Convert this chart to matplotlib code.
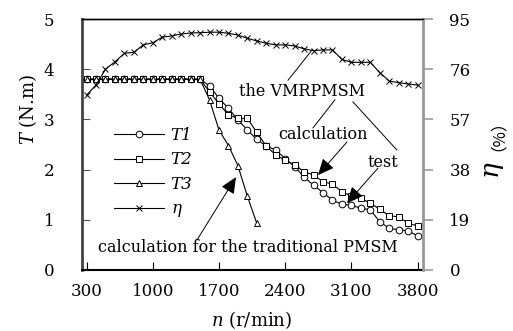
import numpy as np
import matplotlib
matplotlib.use('Agg')
import matplotlib.pyplot as plt

plt.rcParams['font.family'] = ['DejaVu Serif', 'Noto Sans CJK SC']
plt.rcParams['mathtext.fontset'] = 'dejavuserif'

# speed (r/min)
n = list(range(300, 3900, 100))
flat = [3.8] * 13  # 300..1500
T1 = flat + [3.67, 3.42, 3.22, 2.99, 2.79, 2.60, 2.47, 2.39, 2.22, 2.06, 1.85, 1.69,
             1.54, 1.39, 1.31, 1.29, 1.23, 1.20, 0.96, 0.83, 0.80, 0.78, 0.68]
T2 = flat + [3.55, 3.31, 3.09, 3.02, 3.02, 2.74, 2.47, 2.29, 2.19, 2.09, 1.96, 1.89,
             1.76, 1.71, 1.56, 1.47, 1.43, 1.33, 1.21, 1.08, 1.06, 0.93, 0.88]
n3 = list(range(300, 2200, 100))
T3 = flat + [3.39, 2.79, 2.48, 2.08, 1.47, 0.93]
eta = [66.2, 70.0, 76.0, 78.8, 82.0, 82.4, 85.2, 86.0, 88.1, 88.6, 89.3, 89.7,
       89.8, 90.0, 90.0, 89.6, 88.9, 87.7, 86.7, 85.8, 85.2, 85.2, 84.8, 83.7,
       83.0, 83.3, 83.3, 79.7, 78.6, 78.6, 78.6, 74.7, 71.5, 70.9, 70.4, 70.0]

xticks = [300, 1000, 1700, 2400, 3100, 3800]
eta_ticks = [0, 19, 38, 57, 76, 95]

fig = plt.figure(figsize=(5.13, 3.31), dpi=100)
ax = fig.add_axes([82/513, 1-270/331, 341/513, 251/331])
ax2 = ax.twinx()

lw = 0.8
ax.plot(n, T1, '-o', color='black', lw=lw, ms=4.8, mfc='white', mew=0.7, label='T1', zorder=3)
ax.plot(n, T2, '-s', color='black', lw=lw, ms=4.8, mfc='white', mew=0.7, label='T2', zorder=3)
ax.plot(n3, T3, '-^', color='black', lw=lw, ms=4.2, mfc='white', mew=0.7, label='T3', zorder=3)
l4, = ax2.plot(n, eta, '-x', color='black', lw=lw, ms=4.5, mew=0.7, label=r'$\eta$')

ax.set_xlim(252, 3857)
ax.set_ylim(0, 5)
ax2.set_ylim(0, 95)
ax.set_xticks(xticks)
ax.set_yticks([0, 1, 2, 3, 4, 5])
ax2.set_yticks(eta_ticks)

ax.tick_params(axis='x', direction='in', length=6, width=0.8, pad=9, labelsize=12)
ax.tick_params(axis='y', direction='in', length=6, width=0.8, pad=20, labelsize=12, color='#555555')
ax2.tick_params(axis='y', direction='out', length=7, width=1.2, pad=12, labelsize=12, color='#999999')
ax.spines['left'].set_linewidth(2)
ax.spines['left'].set_color('#444444')
ax2.spines['left'].set_visible(False)
ax2.spines['right'].set_color('#999999')
ax2.spines['right'].set_linewidth(2)
ax.spines['bottom'].set_linewidth(1.5)
ax.spines['top'].set_linewidth(1)
ax2.spines['top'].set_linewidth(1)
ax2.spines['bottom'].set_visible(False)

h, lab = ax.get_legend_handles_labels()
leg = ax.legend(h + [l4], lab + [r'$\eta$'], loc='upper left', bbox_to_anchor=(0.05, 0.63),
                frameon=False, handlelength=3.0, labelspacing=0.45, handletextpad=0.4,
                prop={'style': 'italic', 'size': 12})

fig.text(28/513, 1-110/331, r'$T$ (N.m)', rotation=90, ha='center', va='center', fontsize=13)
fig.text(252/513, 1-320/331, r'$n$ (r/min)', ha='center', va='center', fontsize=13)
fig.text(494/513, 1-170/331, r'$\eta$', rotation=90, ha='center', va='center', fontsize=19)
fig.text(489/513, 1-127/331, '（%）', rotation=90, ha='center', va='center', fontsize=12,
         family=['Noto Sans CJK SC', 'DejaVu Serif'])

fs = 11.5
ax.text(2577, 3.55, 'the VMRPMSM', ha='center', va='center', fontsize=fs)
ax.plot([2430, 2683], [3.78, 4.38], color='black', lw=0.7)
ax.plot([2926, 2694], [3.39, 2.83], color='black', lw=0.7)
ax.plot([3116, 3581], [3.35, 2.39], color='black', lw=0.7)
ax.text(2799, 2.69, 'calculation', ha='center', va='center', fontsize=fs)
ax.text(3433, 2.15, 'test', ha='center', va='center', fontsize=fs)
ax.text(2007, 0.44, 'calculation for the traditional PMSM', ha='center', va='center', fontsize=fs)

ap = dict(arrowstyle='-|>,head_length=1.0,head_width=0.45', color='black', lw=0.7, shrinkA=0, shrinkB=0)
ax.annotate('', xy=(2747, 1.89), xytext=(3053, 2.55), arrowprops=ap)
ax.annotate('', xy=(3053, 1.33), xytext=(3381, 2.03), arrowprops=ap)
ax.annotate('', xy=(1880, 1.85), xytext=(1468, 0.60), arrowprops=ap)

fig.savefig('out.png', dpi=100)
